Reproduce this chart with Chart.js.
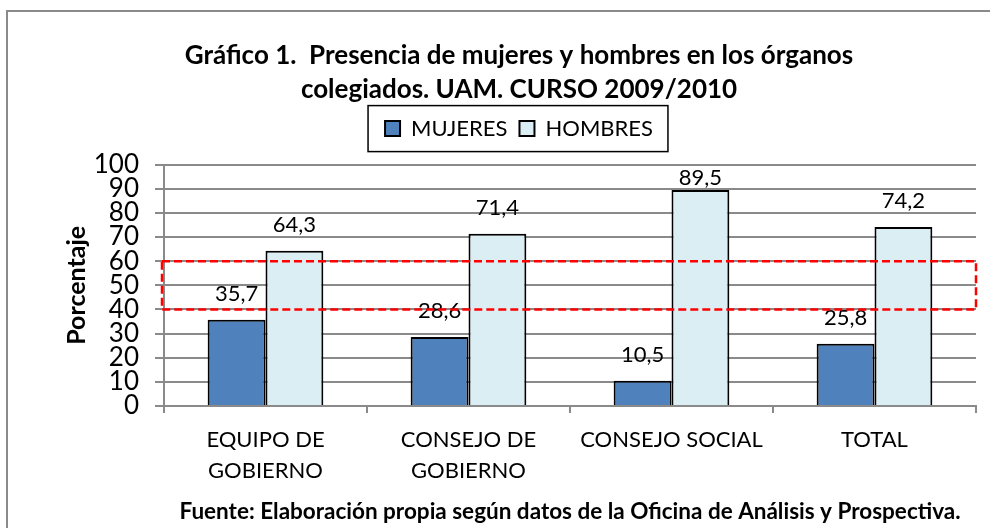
<!DOCTYPE html>
<html>
<head>
<meta charset="utf-8">
<script src="https://cdn.jsdelivr.net/npm/chart.js@4"></script>
<style>
  html, body { margin: 0; padding: 0; background: #fff; }
  #wrap { width: 990px; height: 528px; }
</style>
</head>
<body>
<div id="wrap"><canvas id="chart" width="990" height="528"></canvas></div>
<script>
const categories = [['EQUIPO DE', 'GOBIERNO'], ['CONSEJO DE', 'GOBIERNO'], 'CONSEJO SOCIAL', 'TOTAL'];
const mujeres = [35.7, 28.6, 10.5, 25.8];
const hombres = [64.3, 71.4, 89.5, 74.2];
const yTicks = [0, 10, 20, 30, 40, 50, 60, 70, 80, 90, 100];
const bandLow = 40;
const bandHigh = 60;

const FONT = 'Lato';
const GRID = '#8a8a8a';

// marco exterior, leyenda enmarcada, banda roja y etiquetas de valor
const decor = {
    id: 'decor',
    beforeDraw(chart) {
        const ctx = chart.ctx;
        ctx.save();
        ctx.fillStyle = '#fff';
        ctx.fillRect(0, 0, chart.width, chart.height);
        ctx.strokeStyle = GRID;
        ctx.lineWidth = 2;
        ctx.strokeRect(7, 11, chart.width + 20, chart.height + 20);
        ctx.restore();
    },
    afterDraw(chart) {
        const ctx = chart.ctx;
        const area = chart.chartArea;
        const y = chart.scales.y;
        ctx.save();

        // etiquetas
        ctx.font = '22px ' + FONT;
        ctx.fillStyle = '#000';
        ctx.textAlign = 'center';
        ctx.textBaseline = 'middle';
        chart.data.datasets.forEach((ds, i) => {
            chart.getDatasetMeta(i).data.forEach((bar, j) => {
                const ty = Math.max(bar.y - 26, area.top + 13);
                ctx.fillText(ds.data[j].toFixed(1).replace('.', ','), bar.x, ty);
            });
        });

        // banda 40-60
        ctx.strokeStyle = '#ff0000';
        ctx.lineWidth = 2.5;
        ctx.setLineDash([8, 4]);
        const top = y.getPixelForValue(bandHigh);
        const bot = y.getPixelForValue(bandLow);
        ctx.strokeRect(area.left - 2, top, area.right - area.left + 2, bot - top);
        ctx.setLineDash([]);

        // caja de la leyenda
        const hb = chart.legend.legendHitBoxes;
        if (hb && hb.length) {
            const l = hb[0].left - 17;
            const r = hb[hb.length - 1].left + hb[hb.length - 1].width + 15;
            const t = hb[0].top - 12;
            const b = hb[0].top + hb[0].height + 12;
            ctx.strokeStyle = '#000';
            ctx.lineWidth = 1.5;
            ctx.strokeRect(l, t, r - l, b - t);
        }
        ctx.restore();
    }
};

new Chart(document.getElementById('chart').getContext('2d'), {
    type: 'bar',
    data: {
        labels: categories,
        datasets: [{
            label: 'MUJERES',
            data: mujeres,
            backgroundColor: '#4f81bd',
            borderColor: '#000',
            borderWidth: 2,
            categoryPercentage: 0.57,
            barPercentage: 1
        }, {
            label: 'HOMBRES',
            data: hombres,
            backgroundColor: '#dbeef4',
            borderColor: '#000',
            borderWidth: 2,
            categoryPercentage: 0.57,
            barPercentage: 1
        }]
    },
    options: {
        responsive: false,
        animation: false,
        layout: { padding: { left: 62, right: 14, top: 0, bottom: 0 } },
        plugins: {
            title: {
                display: true,
                text: ['Gráfico 1.  Presencia de mujeres y hombres en los órganos', 'colegiados. UAM. CURSO 2009/2010'],
                color: '#000',
                font: { family: FONT, size: 26, weight: 'bold', lineHeight: 1.3 },
                padding: { top: 39, bottom: -1 }
            },
            legend: {
                display: true,
                weight: 1800,
                labels: {
                    color: '#000',
                    font: { family: FONT, size: 22 },
                    boxWidth: 15,
                    boxHeight: 15,
                    padding: 12
                }
            },
            // separador entre la leyenda y el área del gráfico
            subtitle: {
                display: true,
                text: '',
                font: { size: 1, lineHeight: 1 },
                padding: { top: 14, bottom: 0 }
            },
            tooltip: { enabled: false }
        },
        scales: {
            x: {
                grid: { drawOnChartArea: false, drawTicks: true, tickLength: 7, color: GRID, lineWidth: 2 },
                border: { color: GRID, width: 2 },
                ticks: { color: '#000', font: { family: FONT, size: 22, lineHeight: 1.4 }, maxRotation: 0, padding: 12 },
                title: {
                    display: true,
                    text: 'Fuente: Elaboración propia según datos de la Oficina de Análisis y Prospectiva.',
                    color: '#000',
                    font: { family: FONT, size: 22.5, weight: 'bold', lineHeight: 1.2 },
                    padding: { top: 0, bottom: 3 }
                },
                afterFit(scale) { scale.height = 122; }
            },
            y: {
                min: 0,
                max: 100,
                afterBuildTicks(scale) { scale.ticks = yTicks.map(v => ({ value: v })); },
                grid: { color: GRID, lineWidth: 2, tickLength: 9 },
                border: { color: GRID, width: 2 },
                ticks: { autoSkip: false, color: '#000', font: { family: FONT, size: 26 }, padding: 16 },
                title: {
                    display: true,
                    text: 'Porcentaje',
                    color: '#000',
                    font: { family: FONT, size: 25, weight: 'bold', lineHeight: 1.2 },
                    padding: { top: 0, bottom: 0 }
                },
                afterFit(scale) { scale.width = 102; }
            }
        }
    },
    plugins: [decor]
});
</script>
</body>
</html>
